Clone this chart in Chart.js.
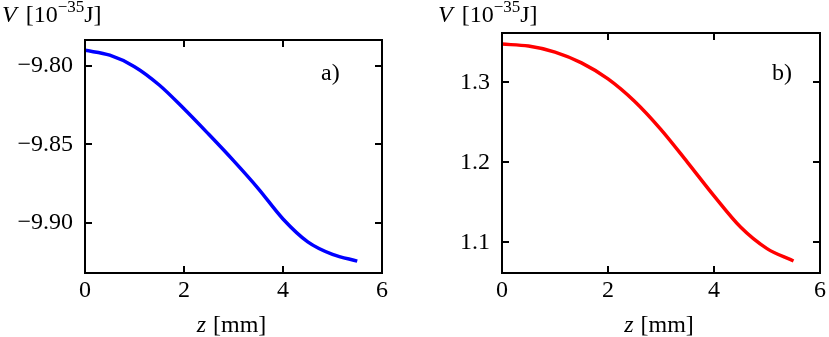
<!DOCTYPE html>
<html><head><meta charset="utf-8">
<script src="https://cdn.jsdelivr.net/npm/chart.js@4"></script>
<style>
html,body{margin:0;padding:0;background:#fff;width:829px;height:337px;overflow:hidden}
canvas{position:absolute;top:0}
#c1{left:0}
#c2{left:414px}
</style></head><body>
<canvas id="c1" width="414" height="337"></canvas>
<canvas id="c2" width="415" height="337"></canvas>
<script>
// ---- data ----
const zValues = [0, 0.5, 1.0, 1.5, 2.0, 2.5, 3.0, 3.5, 4.0, 4.5, 5.0, 5.5];
const seriesA = [-9.7900, -9.7931, -9.8004, -9.8121, -9.8273, -9.8436, -9.8604, -9.8782, -9.8976, -9.9122, -9.9202, -9.9245];
const seriesB = [1.3480, 1.3455, 1.3380, 1.3245, 1.3045, 1.2765, 1.2410, 1.2000, 1.1580, 1.1190, 1.0920, 1.0765];
const xTicks = [0, 2, 4, 6];
const yTicksA = [-9.80, -9.85, -9.90];
const yTicksB = [1.1, 1.2, 1.3];
const yLabelsA = ['\u22129.80', '\u22129.85', '\u22129.90'];
const yLabelsB = ['1.1', '1.2', '1.3'];

const SERIF = '"Liberation Serif", "DejaVu Serif", serif';

const deco = {
  id: 'deco',
  afterDraw(chart, args, o) {
    const ctx = chart.ctx, a = chart.chartArea;
    const xs = chart.scales.x, ys = chart.scales.y;
    ctx.save();
    ctx.strokeStyle = '#000';
    ctx.lineWidth = 2;
    // inward ticks
    ctx.beginPath();
    xs.ticks.forEach(t => {
      const px = Math.round(xs.getPixelForValue(t.value));
      if (px <= a.left + 1 || px >= a.right - 1) return;
      ctx.moveTo(px, a.bottom); ctx.lineTo(px, a.bottom - 7);
      ctx.moveTo(px, a.top); ctx.lineTo(px, a.top + 7);
    });
    ys.ticks.forEach(t => {
      const py = Math.round(ys.getPixelForValue(t.value));
      ctx.moveTo(a.left, py); ctx.lineTo(a.left + 7, py);
      ctx.moveTo(a.right, py); ctx.lineTo(a.right - 7, py);
    });
    ctx.stroke();
    // frame
    ctx.strokeRect(a.left, a.top, a.right - a.left, a.bottom - a.top);
    ctx.fillStyle = '#000';
    ctx.textBaseline = 'alphabetic';
    // panel label
    ctx.font = '24px ' + SERIF;
    ctx.textAlign = 'left';
    ctx.fillText(o.panel, o.panelX, o.panelY);
    // y title: V [10^-35 J]
    let x = o.titleX, y = o.titleY;
    ctx.font = 'italic 24px ' + SERIF;
    ctx.fillText('V', x, y); x += ctx.measureText('V').width + 9;
    ctx.font = '24px ' + SERIF;
    ctx.fillText('[10', x, y); x += ctx.measureText('[10').width;
    ctx.font = '17px ' + SERIF;
    ctx.fillText('\u221235', x, y - 10); x += ctx.measureText('\u221235').width;
    ctx.font = '24px ' + SERIF;
    ctx.fillText('J]', x, y);
    // x title: z [mm]
    const cx = (a.left + a.right) / 2 - 2;
    ctx.font = 'italic 24px ' + SERIF;
    const w1 = ctx.measureText('z').width + 7;
    ctx.font = '24px ' + SERIF;
    const w2 = ctx.measureText('[mm]').width;
    let sx = cx - (w1 + w2) / 2;
    ctx.font = 'italic 24px ' + SERIF;
    ctx.fillText('z', sx, 332);
    ctx.font = '24px ' + SERIF;
    ctx.fillText('[mm]', sx + w1, 332);
    ctx.restore();
  }
};

function makeChart(id, data, color, yTicks, yLabels, ymin, ymax, layout, yWidth, decoOpts) {
  return new Chart(document.getElementById(id), {
    type: 'line',
    data: {
      datasets: [{
        data: zValues.map((z, i) => ({x: z, y: data[i]})),
        borderColor: color,
        borderWidth: 3.5,
        pointRadius: 0,
        cubicInterpolationMode: 'monotone',
        fill: false
      }]
    },
    options: {
      responsive: false,
      animation: false,
      events: [],
      layout: {padding: layout},
      plugins: {legend: {display: false}, tooltip: {enabled: false}, deco: decoOpts},
      scales: {
        x: {
          type: 'linear', min: 0, max: 6,
          afterBuildTicks: s => { s.ticks = xTicks.map(v => ({value: v})); },
          afterFit: s => { s.height = 64; },
          grid: {display: false, drawTicks: false},
          border: {display: false},
          ticks: {color: '#000', font: {family: SERIF, size: 24}, padding: 3, maxRotation: 0,
                  callback: v => String(v)}
        },
        y: {
          type: 'linear', min: ymin, max: ymax,
          afterBuildTicks: s => { s.ticks = yTicks.map(v => ({value: v})); },
          afterFit: s => { s.width = yWidth; },
          grid: {display: false, drawTicks: false},
          border: {display: false},
          ticks: {color: '#000', font: {family: SERIF, size: 24}, padding: 12,
                  callback: (v) => { const i = yTicks.findIndex(t => Math.abs(t - v) < 1e-9); return i >= 0 ? yLabels[i] : ''; }}
        }
      }
    },
    plugins: [deco]
  });
}

makeChart('c1', seriesA, '#0000ff', yTicksA, yLabelsA, -9.9321, -9.7834,
  {top: 40, right: 32, left: 0, bottom: 0}, 85,
  {panel: 'a)', panelX: 321, panelY: 80, titleX: 2, titleY: 22});
makeChart('c2', seriesB, '#ff0000', yTicksB, yLabelsB, 1.0615, 1.3619,
  {top: 33, right: 5, left: 0, bottom: 0}, 88,
  {panel: 'b)', panelX: 772 - 414, panelY: 80, titleX: 438 - 414, titleY: 22});
</script>
</body></html>
